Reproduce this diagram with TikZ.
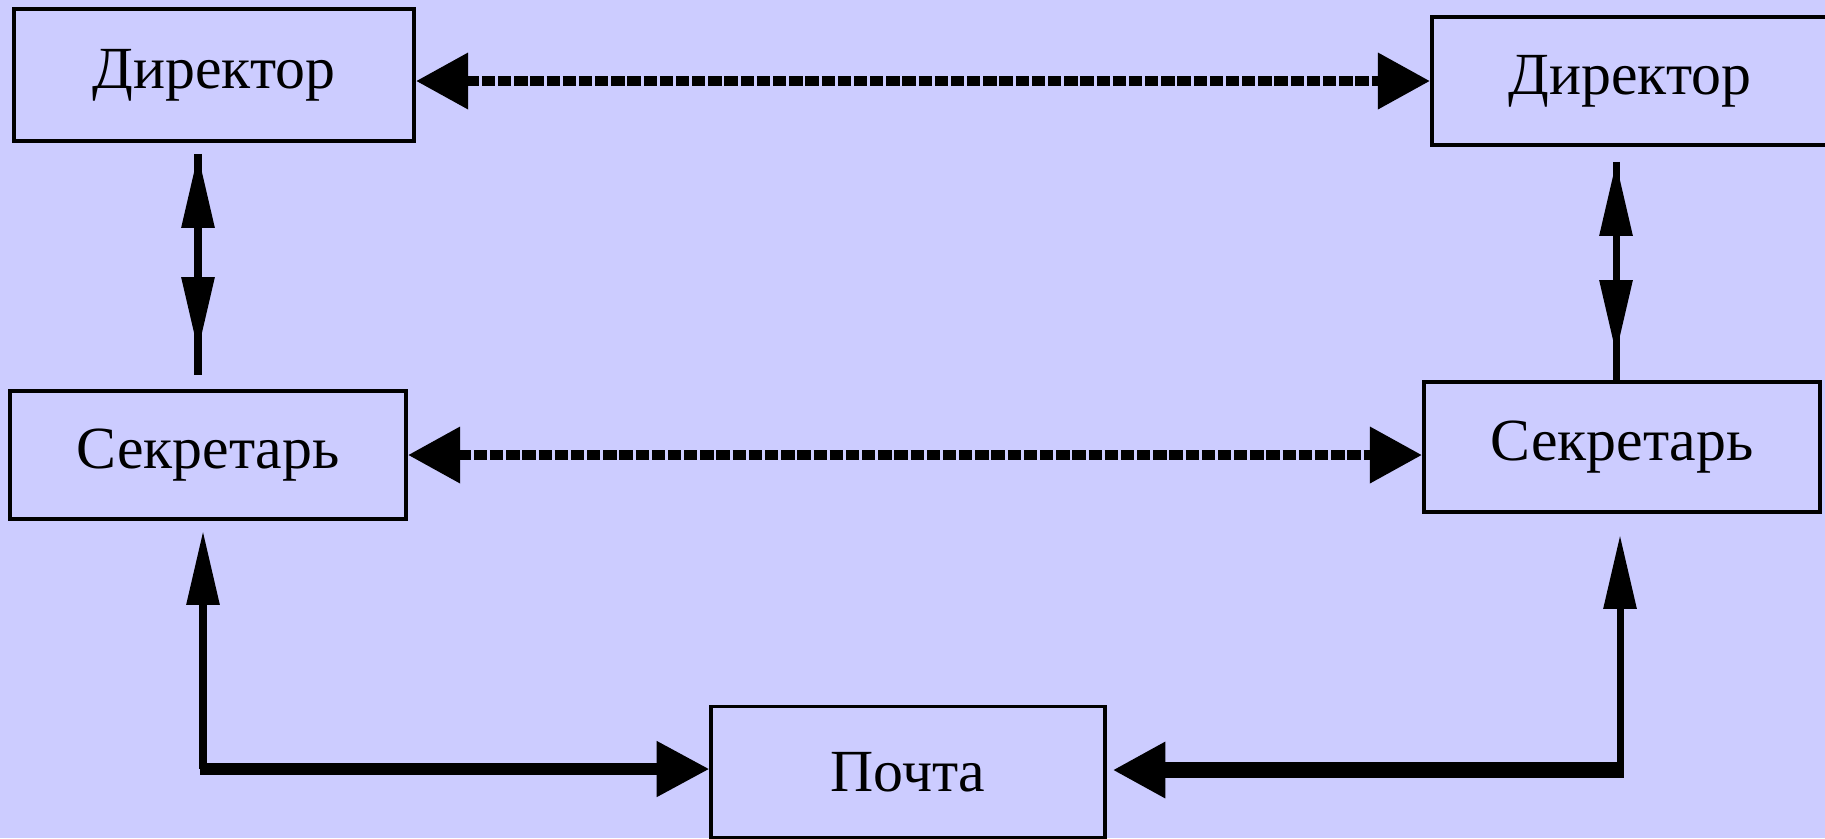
\documentclass[tikz,border=0pt]{standalone}
\usepackage{fontspec}
\setmainfont{Liberation Serif}
\usetikzlibrary{arrows.meta}
\definecolor{bgblue}{RGB}{204,204,255}

\begin{document}
\begin{tikzpicture}[x=0.01cm,y=-0.01cm]
		\tikzset{box/.style = {shape=rectangle, draw, line width=1.1pt, inner sep=0pt, minimum width=3.96cm, minimum height=1.3cm, font=\fontsize{17}{20}\selectfont},
			dots/.style = {line width=2.8pt, dash pattern=on 3.8pt off 0.8pt, >={Triangle[length=14.8pt,width=15.4pt]}},
			vert/.style = {line width=2pt, >={Triangle[length=21pt,width=9pt]}},
			post/.style = {line width=3.3pt, >={Triangle[length=15pt,width=15pt]}}}

		\useasboundingbox (0,0) rectangle (1825,838);
		\fill[bgblue] (0,0) rectangle (1825,838);

		\node[box, minimum width=4cm, minimum height=1.32cm] (Dir_1) at (214,75) {Директор};
		\node[box, minimum height=1.28cm] (Dir_2) at (1630,81) {Директор};
		\node[box, minimum height=1.28cm] (Sec_1) at (208,455) {Секретарь};
		\node[box] (Sec_2) at (1622,447) {Секретарь};
		\node[box, minimum width=3.93cm, minimum height=1.31cm] (Mail) at (908,772) {Почта};

		\coordinate (c_1) at (203,769);
		\coordinate (c_2) at (1620,770);



		\draw[dots, <->] (Dir_1.east |- Dir_2.west) -- (Dir_2.west);
		\draw[dots, <->] (Sec_1.east) -- (Sec_1.east -| Sec_2.west);

		\draw[vert, <-] ([shift={(-16,11)}]Dir_1.south) -- ([shift={(-10,-14)}]Sec_1.north);
		\draw[vert, ->] ([shift={(-16,11)}]Dir_1.south) -- ([shift={(-10,-38)}]Sec_1.north);
		\draw[vert, <-] ([shift={(-14,15)}]Dir_2.south) -- ([shift={(-6,0)}]Sec_2.north);
		\draw[vert, ->] ([shift={(-14,15)}]Dir_2.south) -- ([shift={(-6,-26)}]Sec_2.north);

		\draw[vert, <-] ([shift={(-5,10)}]Sec_1.south) -- (c_1);
		\draw[post, ->, shorten <=-0.035cm] (c_1) -- (c_1 -| Mail.west);
		\draw[vert, <-] ([shift={(-2,21)}]Sec_2.south) -- (c_2);
		\draw[post, ->, line width=4.3pt, shorten <=-0.035cm, shorten >=0.06cm] (c_2) -- (c_2 -| Mail.east);

	\end{tikzpicture}
\end{document}
